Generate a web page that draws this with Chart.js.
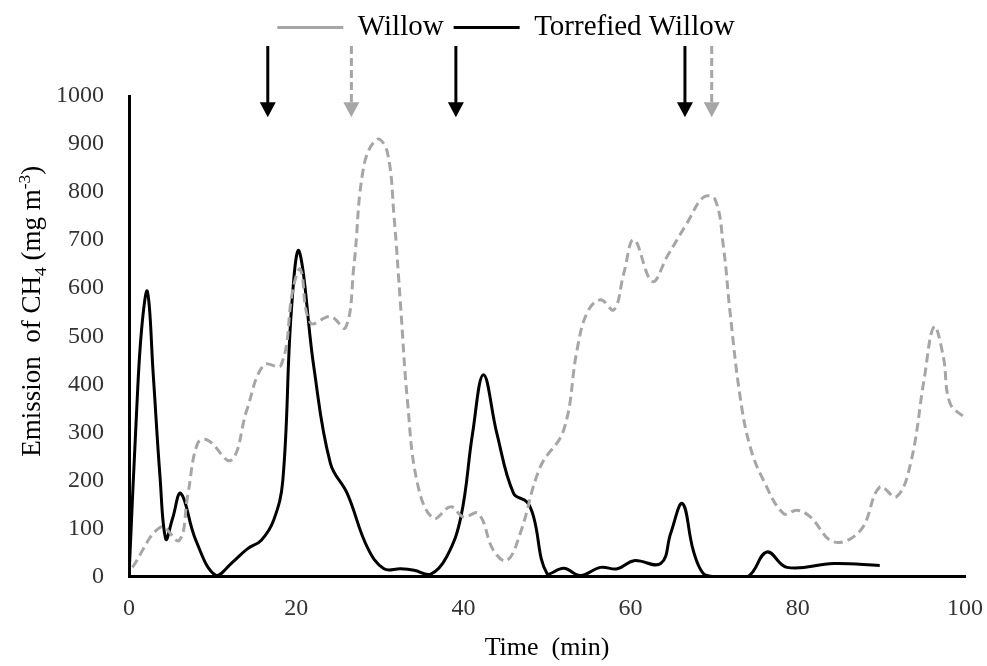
<!DOCTYPE html>
<html>
<head>
<meta charset="utf-8">
<title>Emission of CH4</title>
<script src="https://cdn.jsdelivr.net/npm/chart.js@4.4.1/dist/chart.umd.min.js"></script>
<style>
  html, body { margin: 0; padding: 0; background: #fff; }
  #wrap { width: 987px; height: 666px; }
</style>
</head>
<body>
<div id="wrap"><canvas id="ch4Chart" width="987" height="666"></canvas></div>
<script>
// Willow (grey dashed line)
const willowTime = [0.4, 3.8, 6.0, 7.0, 8.2, 9.4, 12.2, 14.1, 16.1, 18.2, 19.6, 20.5, 21.7, 24.1, 25.9,
  26.9, 28.1, 29.7, 30.9, 31.7, 32.5, 33.3, 34.5, 36.4, 38.5, 40.0, 41.8, 43.6, 45.2, 46.8,
  49.2, 52.0, 53.6, 54.8, 56.4, 58.0, 59.2, 60.4, 62.6, 64.4, 66.8, 68.7, 70.1, 71.1, 71.9,
  73.1, 74.3, 75.9, 78.3, 79.9, 81.5, 84.3, 87.5, 89.8, 91.8, 93.5, 95.1, 96.3, 97.4, 98.2, 100];
const willowCH4 = [19, 103, 75, 166, 277, 284, 242, 347, 440, 440, 597, 639, 528, 541, 518,
  646, 855, 910, 883, 750, 560, 367, 194, 121, 145, 124, 131, 54, 33, 90,
  228, 305, 472, 549, 576, 555, 632, 701, 614, 667, 737, 789, 785, 687, 549,
  374, 270, 200, 131, 138, 124, 72, 96, 186, 166, 236, 409, 520, 458, 361, 330];

// Torrefied willow (black solid line)
const torrefiedTime = [0, 0.9, 1.5, 2.2, 2.9, 3.7, 4.4, 5.2, 6.2, 8.0, 10.4, 12.4, 14.2, 15.8, 17.3, 18.4,
  19.4, 20.35, 22.1, 24.1, 26.1, 28.5, 30.5, 32.5, 34.1, 36.1, 38.0, 39.7, 41.1, 42.4, 44.0,
  46.0, 47.6, 48.4, 50.0, 52.0, 54.0, 56.4, 58.4, 60.4, 63.6, 64.8, 66.2, 67.5, 68.7, 70.0,
  74.0, 76.3, 78.7, 84.3, 89.8];
const torrefiedCH4 = [0, 340, 513, 593, 420, 210, 78, 120, 173, 75, 2, 30, 58, 75, 117, 200,
  548, 677, 437, 235, 173, 61, 16, 16, 13, 5, 41, 124, 298, 420, 298,
  173, 155, 124, 6, 17, 2, 19, 16, 33, 27, 90, 152, 54, 6, 0,
  0, 51, 19, 27, 23];

// event arrows above the plot (time in min)
const torrefiedArrows = [16.6, 39.1, 66.5];
const willowArrows = [26.6, 69.7];

const seriesNames = ["Willow", "Torrefied Willow"];

const GREY = "#A6A6A6";
const FONT = "'Liberation Serif', 'Times New Roman', serif";

function toPoints(xs, ys) {
  return xs.map((x, i) => ({ x: x, y: ys[i] }));
}

// arrows + y axis title with sub/superscript
const extrasPlugin = {
  id: "extras",
  afterDraw(chart) {
    const { ctx, scales: { x, y }, chartArea } = chart;
    const top = y.getPixelForValue(1104);
    const tip = y.getPixelForValue(956);

    function arrow(t, color, dashed) {
      const px = x.getPixelForValue(t);
      ctx.save();
      ctx.strokeStyle = color;
      ctx.fillStyle = color;
      ctx.lineWidth = 3;
      if (dashed) ctx.setLineDash([8, 4]);
      ctx.beginPath();
      ctx.moveTo(px, top);
      ctx.lineTo(px, tip - 13);
      ctx.stroke();
      ctx.setLineDash([]);
      ctx.beginPath();
      ctx.moveTo(px - 8, tip - 15);
      ctx.lineTo(px + 8, tip - 15);
      ctx.lineTo(px, tip);
      ctx.closePath();
      ctx.fill();
      ctx.restore();
    }
    torrefiedArrows.forEach((t) => arrow(t, "#000", false));
    willowArrows.forEach((t) => arrow(t, GREY, true));

    // y axis title
    const size = 27;
    const parts = [
      { text: "Emission  of CH", scale: 1, shift: 0 },
      { text: "4", scale: 0.65, shift: 0.22 },
      { text: " (mg m", scale: 1, shift: 0 },
      { text: "-3", scale: 0.65, shift: -0.38 },
      { text: ")", scale: 1, shift: 0 },
    ];
    ctx.save();
    let total = 0;
    parts.forEach((p) => {
      ctx.font = (size * p.scale) + "px " + FONT;
      p.w = ctx.measureText(p.text).width;
      total += p.w;
    });
    const cy = (chartArea.top + chartArea.bottom) / 2 - 25;
    ctx.translate(chartArea.left - 89, cy);
    ctx.rotate(-Math.PI / 2);
    ctx.fillStyle = "#000";
    ctx.textBaseline = "alphabetic";
    ctx.textAlign = "left";
    let cx = -total / 2;
    parts.forEach((p) => {
      ctx.font = (size * p.scale) + "px " + FONT;
      ctx.fillText(p.text, cx, p.shift * size);
      cx += p.w;
    });
    ctx.restore();
  },
};

const ctx = document.getElementById("ch4Chart").getContext("2d");
const chart = new Chart(ctx, {
  type: "line",
  data: {
    datasets: [
      {
        label: seriesNames[0],
        data: toPoints(willowTime, willowCH4),
        borderColor: GREY,
        backgroundColor: GREY,
        borderWidth: 3,
        borderDash: [9, 5],
        pointRadius: 0,
        tension: 0.4,
        fill: false,
      },
      {
        label: seriesNames[1],
        data: toPoints(torrefiedTime, torrefiedCH4),
        borderColor: "#000",
        backgroundColor: "#000",
        borderWidth: 3,
        pointRadius: 0,
        tension: 0.4,
        fill: false,
      },
    ],
  },
  options: {
    responsive: false,
    animation: false,
    layout: { padding: { top: 3, left: 32, right: 7, bottom: 0 } },
    plugins: {
      legend: {
        position: "top",
        labels: {
          usePointStyle: true,
          pointStyle: "line",
          pointStyleWidth: 66,
          padding: 10,
          color: "#000",
          font: { family: FONT, size: 29 },
        },
      },
      // empty title used as a spacer between legend and plot
      title: {
        display: true,
        text: "",
        weight: 500,
        font: { size: 1, lineHeight: 1 },
        padding: { top: 0, bottom: 43 },
      },
      tooltip: { enabled: false },
    },
    scales: {
      x: {
        type: "linear",
        min: 0,
        max: 100,
        ticks: {
          stepSize: 20, padding: 18, color: "#333",
          font: { family: FONT, size: 24 },
          callback: (v) => String(v),
        },
        grid: { display: false, drawTicks: false },
        border: { display: true, color: "#000", width: 3 },
        title: {
          display: true,
          text: "Time  (min)",
          color: "#000",
          font: { family: FONT, size: 26 },
          padding: { top: 0, bottom: 2 },
        },
        afterFit(scale) {
          scale.height = 89.5;
          scale.paddingRight = 22;
        },
      },
      y: {
        min: 0,
        max: 1000,
        ticks: {
          stepSize: 100, padding: 25, color: "#333",
          font: { family: FONT, size: 24 },
          callback: (v) => String(v),
        },
        grid: { display: false, drawTicks: false },
        border: { display: true, color: "#000", width: 3 },
        afterFit(scale) { scale.width = 97; },
      },
    },
  },
  plugins: [extrasPlugin],
});
</script>
</body>
</html>
